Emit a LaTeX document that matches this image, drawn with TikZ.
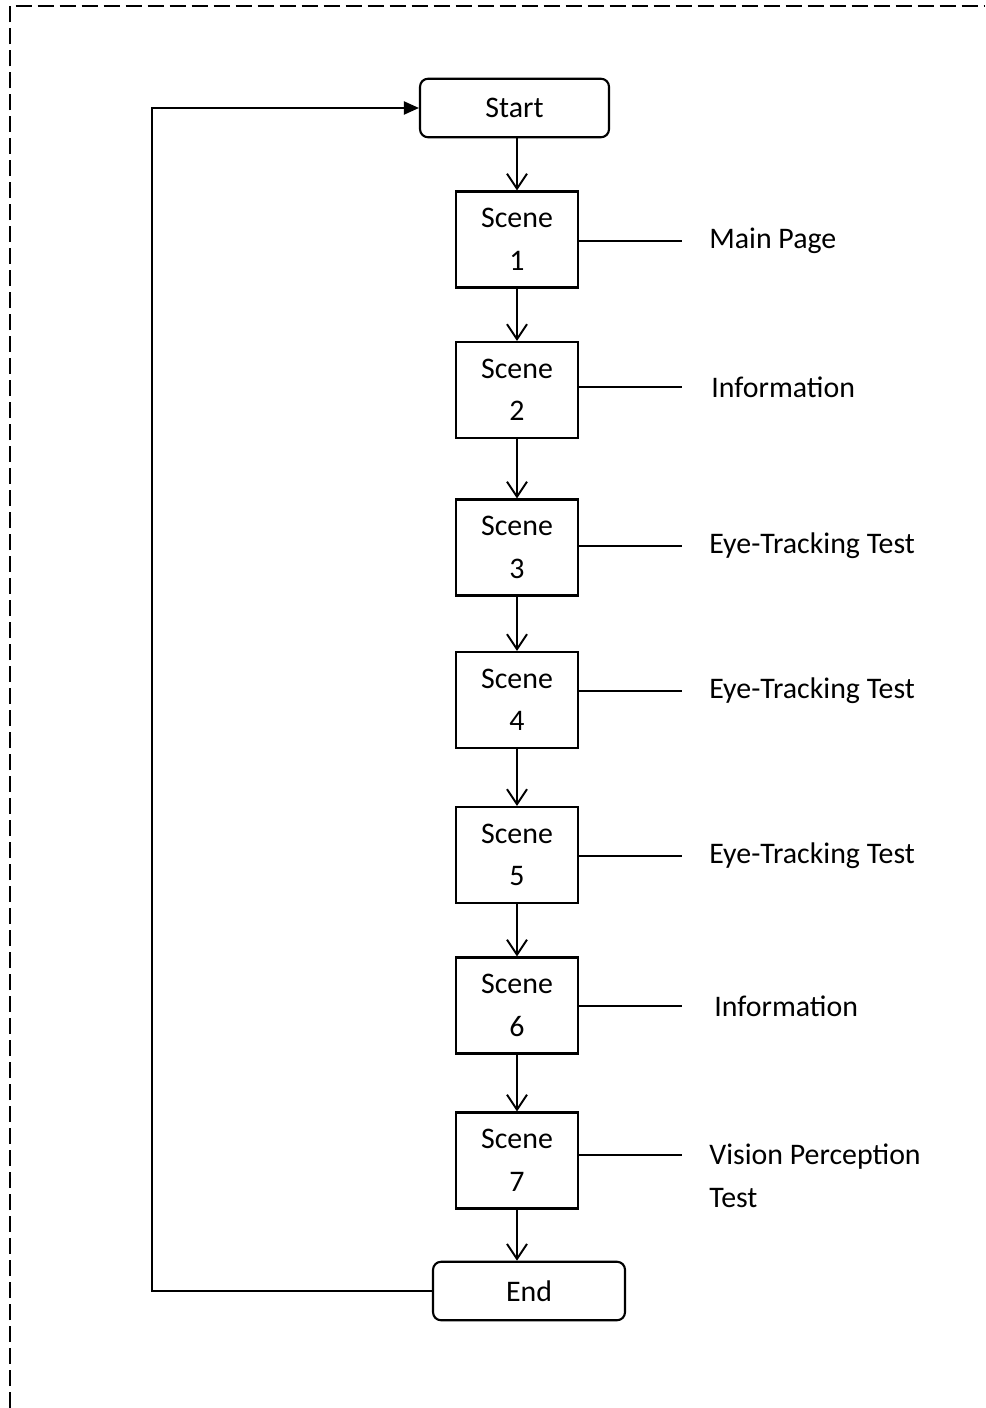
\documentclass[tikz,border=0pt]{standalone}
\usepackage{fontspec}
\setmainfont{Carlito}
\usetikzlibrary{arrows.meta}

\begin{document}
\begin{tikzpicture}[x=0.02cm,y=-0.02cm,
		escena/.style={draw,rectangle,line width=1.2pt,minimum width=2.44cm,minimum height=1.92cm,inner sep=0pt,align=center},
		extremo/.style={draw,rectangle,rounded corners=0.16cm,line width=1.2pt,minimum height=1.17cm,inner sep=0pt},
		etiqueta/.style={anchor=west,inner xsep=0.54cm,inner ysep=0pt,align=left},
		flecha/.style={line width=1.1pt,-{Straight Barb[length=0.3cm,width=0.4cm,line width=1.1pt]}}]
		\useasboundingbox (0,0) rectangle (985,1408);
		\fontsize{17}{24.2}\selectfont

		%Marco
		\draw[line width=0.85pt,dash pattern=on 0.32cm off 0.12cm] (10,1408) -- (10,6) -- (985,6);

		%Nodos
		\node [extremo,minimum width=3.78cm] (inicio) at (514.5,108) {Start};
		\node [escena] (escena1) at (517,239.5) {Scene\\1};
		\node [escena] (escena2) at (517,390) {Scene\\2};
		\node [escena] (escena3) at (517,547.5) {Scene\\3};
		\node [escena] (escena4) at (517,700) {Scene\\4};
		\node [escena] (escena5) at (517,855) {Scene\\5};
		\node [escena] (escena6) at (517,1005.5) {Scene\\6};
		\node [escena] (escena7) at (517,1160.5) {Scene\\7};
		\node [extremo,minimum width=3.84cm] (fin) at (529,1291) {End};

		\node [etiqueta] (etiqueta1) at (682,241) {Main Page};
		\node [etiqueta] (etiqueta2) at (684,387) {Information};
		\node [etiqueta] (etiqueta3) at (682,546) {Eye-Tracking Test};
		\node [etiqueta] (etiqueta4) at (682,691) {Eye-Tracking Test};
		\node [etiqueta] (etiqueta5) at (682,856) {Eye-Tracking Test};
		\node [etiqueta] (etiqueta6) at (687,1006) {Information};
		\coordinate (punto7) at (682,1155);
		\node [etiqueta] (etiqueta7) at (682,1176) {Vision Perception\\Test};

		%Arcos
		\draw[flecha] (escena1.north |- inicio.south) -- (escena1.north);
		\draw[flecha] (escena1) -- (escena2);
		\draw[flecha] (escena2) -- (escena3);
		\draw[flecha] (escena3) -- (escena4);
		\draw[flecha] (escena4) -- (escena5);
		\draw[flecha] (escena5) -- (escena6);
		\draw[flecha] (escena6) -- (escena7);
		\draw[flecha] (escena7) -- (escena7 |- fin.north);

		\draw[line width=1.1pt] (escena1.east |- etiqueta1.west) -- (etiqueta1.west -| 682,0);
		\draw[line width=1.1pt] (escena2.east |- etiqueta2.west) -- (etiqueta2.west -| 682,0);
		\draw[line width=1.1pt] (escena3.east |- etiqueta3.west) -- (etiqueta3.west);
		\draw[line width=1.1pt] (escena4.east |- etiqueta4.west) -- (etiqueta4.west);
		\draw[line width=1.1pt] (escena5.east |- etiqueta5.west) -- (etiqueta5.west);
		\draw[line width=1.1pt] (escena6.east |- etiqueta6.west) -- (etiqueta6.west -| 682,0);
		\draw[line width=1.1pt] (escena7.east |- punto7) -- (punto7);

		\draw[line width=1.1pt,-{Triangle[length=0.3cm,width=0.26cm]}] (fin.west) -- ++(-280,0) |- (inicio.west);
\end{tikzpicture}
\end{document}
